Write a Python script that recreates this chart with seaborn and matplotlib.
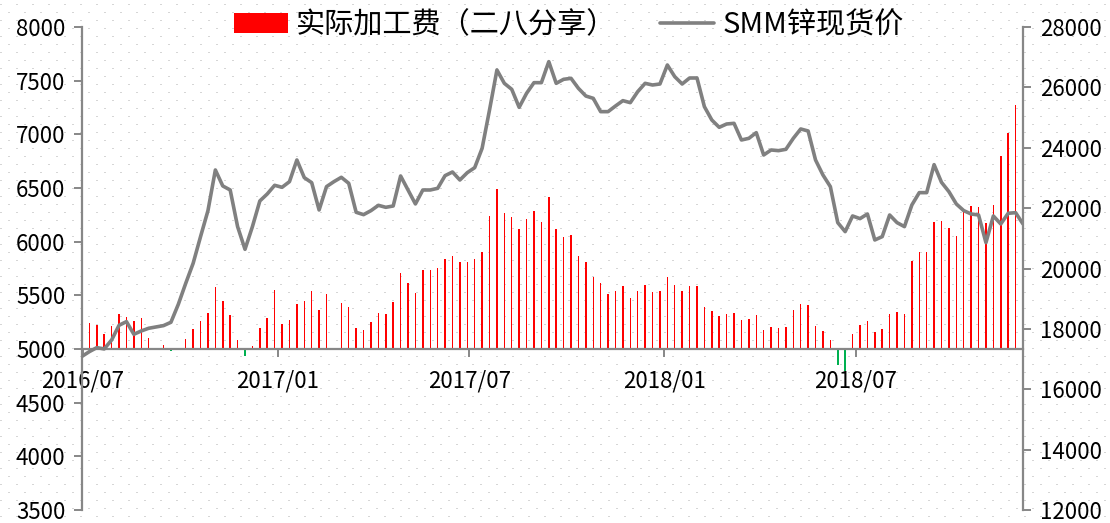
import matplotlib
matplotlib.use("Agg")
import matplotlib.pyplot as plt
import matplotlib.dates as mdates
import seaborn as sns
import numpy as np
import pandas as pd


# weekly dates, first and last week only carry the price line
dates = pd.date_range("2016-06-30", periods=128, freq="7D")

# 实际加工费（二八分享）, left axis, drawn from a 5000 base
fee = [np.nan,
       5242, 5223, 5142, 5217, 5328, 5300, 5263, 5291, 5105, np.nan,
       5040, 4980, np.nan, 5096, 5189, 5263, 5338, 5579, 5449, 5319,
       5087, 4935, 5025, 5198, 5291, 5551, 5235, 5273, 5421, 5449,
       5542, 5365, 5514, np.nan, 5430, 5393, 5198, 5180, 5254, 5338,
       5328, 5440, 5709, 5616, 5523, 5737, 5737, 5756, 5839, 5867,
       5811, 5811, 5839, 5904, 6239, 6490, 6267, 6230, 6118, 6211,
       6285, 6183, 6415, 6118, 6044, 6062, 5867, 5811, 5672, 5616,
       5514, 5542, 5588, 5477, 5542, 5598, 5533, 5542, 5672, 5598,
       5542, 5588, 5588, 5393, 5356, 5310, 5328, 5338, 5273, 5282,
       5319, 5180, 5207, 5198, 5207, 5365, 5421, 5412, 5217, 5170,
       5087, 4851, 4796, 5142, 5226, 5263, 5161, 5189, 5328, 5347,
       5328, 5821, 5904, 5904, 6183, 6192, 6127, 6053, 6276, 6332,
       6322, 6174, 6341, 6796, 7010, 7270,
       np.nan]

# SMM锌现货价, right axis
price = [17090, 17247, 17379, 17335, 17633, 18119, 18240, 17821, 17931, 18020,
         18064, 18108, 18218, 18814, 19510, 20172, 21056, 21917, 23264, 22734,
         22601, 21387, 20636, 21387, 22237, 22469, 22756, 22690, 22877, 23595,
         23010, 22844, 21939, 22712, 22877, 23021, 22822, 21862, 21784, 21917,
         22093, 22027, 22071, 23065, 22601, 22138, 22601, 22601, 22656, 23076,
         23197, 22932, 23175, 23341, 23981, 25251, 26576, 26134, 25935, 25339,
         25803, 26156, 26156, 26852, 26134, 26267, 26300, 25968, 25714, 25637,
         25196, 25196, 25383, 25560, 25494, 25858, 26134, 26079, 26112, 26741,
         26355, 26112, 26311, 26311, 25361, 24920, 24677, 24787, 24809, 24257,
         24312, 24500, 23760, 23926, 23904, 23948, 24312, 24622, 24555, 23595,
         23098, 22712, 21519, 21221, 21740, 21652, 21806, 20945, 21056, 21773,
         21519, 21387, 22104, 22513, 22513, 23440, 22855, 22546, 22138, 21917,
         21806, 21773, 20857, 21740, 21475, 21829, 21850, 21475]

left_ticks = [3500, 4000, 4500, 5000, 5500, 6000, 6500, 7000, 7500, 8000]
right_ticks = [12000, 14000, 16000, 18000, 20000, 22000, 24000, 26000, 28000]
x_ticks = pd.to_datetime(["2016-07-01", "2017-01-01", "2017-07-01", "2018-01-01", "2018-07-01"])

fee_label = "实际加工费（二八分享）"
price_label = "SMM锌现货价"

sns.set_style("white")
plt.rcParams["font.family"] = ["Noto Sans CJK SC", "DejaVu Sans"]
plt.rcParams["text.color"] = "black"

axis_grey = "#878787"

fig = plt.figure(figsize=(11.1, 5.23), dpi=100)

# dotted background pattern like the excel fill
W, H = 1110, 523
bg = np.ones((H, W, 3))
yy, xx = np.mgrid[0:H, 0:W]
dots = (yy % 8 == 4) & (((xx + (yy // 8 % 2) * 8) % 16) < 2)
bg[dots] = 0.84
fig.figimage(bg, xo=0, yo=0, origin="upper", zorder=-10)

ax = fig.add_axes([82 / W, 1 - 510 / H, (1023 - 82) / W, (510 - 27) / H])
ax.patch.set_alpha(0)

df = pd.DataFrame({"date": dates, "fee": fee, "price": price})
colors = np.where(df["fee"] < 5000, "#00B050", "#FF0000")

ax.bar(df["date"], df["fee"] - 5000, bottom=5000, width=1.4,
       color=colors, linewidth=0, label=fee_label)
ax.set_ylim(3500, 8000)
ax.set_yticks(left_ticks)
ax.set_xlim(dates[0], dates[-1])
ax.set_xticks(x_ticks)
ax.xaxis.set_major_formatter(mdates.DateFormatter("%Y/%m"))

ax.spines["top"].set_visible(False)
ax.spines["right"].set_visible(False)
ax.spines["bottom"].set_position(("data", 5000))
for s in ["left", "bottom"]:
    ax.spines[s].set_color(axis_grey)
    ax.spines[s].set_linewidth(1.6)
ax.tick_params(axis="y", direction="out", length=6, width=1.4, color=axis_grey,
               labelcolor="black", labelsize=16, pad=6, left=True)
ax.tick_params(axis="x", direction="out", length=6, width=1.4, color=axis_grey,
               labelcolor="black", labelsize=16, pad=9, bottom=True)

ax2 = ax.twinx()
ax2.patch.set_alpha(0)
sns.lineplot(data=df, x="date", y="price", ax=ax2, color="#808080",
             linewidth=2.6, label=price_label, legend=False)
ax2.set_ylim(12000, 28000)
ax2.set_yticks(right_ticks)
ax2.set_ylabel("")
ax.set_xlabel("")
ax.set_ylabel("")
for s in ["top", "left", "bottom"]:
    ax2.spines[s].set_visible(False)
ax2.spines["right"].set_color(axis_grey)
ax2.spines["right"].set_linewidth(1.6)
ax2.tick_params(axis="y", direction="out", length=6, width=1.4, color=axis_grey,
                labelcolor="black", labelsize=16, pad=6, right=True)

h1, l1 = ax.get_legend_handles_labels()
h2, l2 = ax2.get_legend_handles_labels()
fig.legend(h1 + h2, l1 + l2, loc="center", bbox_to_anchor=(569 / W, 1 - 25 / H),
           ncol=2, frameon=False, fontsize=21, handlelength=1.85,
           handletextpad=0.3, columnspacing=1.5, labelcolor="black")

fig.savefig("out.png", dpi=100)
